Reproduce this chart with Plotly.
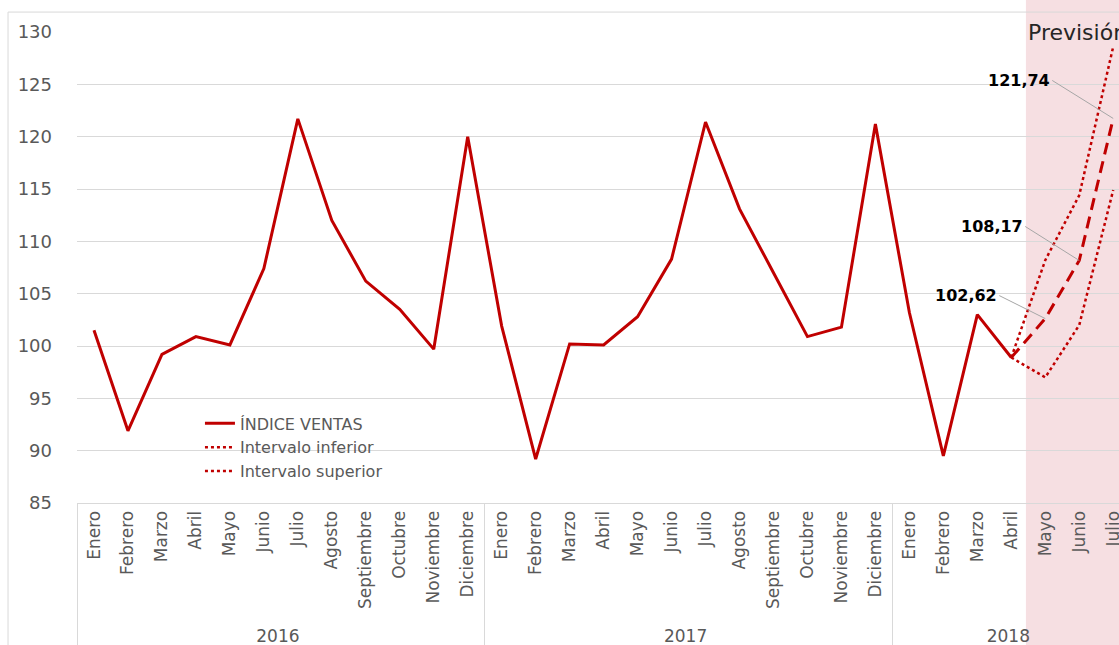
import plotly.graph_objects as go

# ---------------- data ----------------
month_names = ["Enero", "Febrero", "Marzo", "Abril", "Mayo", "Junio", "Julio",
               "Agosto", "Septiembre", "Octubre", "Noviembre", "Diciembre"]
years = ["2016"] * 12 + ["2017"] * 12 + ["2018"] * 7
months = month_names + month_names + month_names[:7]

ventas = [101.5, 91.9, 99.2, 100.9, 100.1, 107.4, 121.7, 112.0, 106.2, 103.5, 99.7, 120.0,
          101.9, 89.2, 100.2, 100.1, 102.8, 108.3, 121.4, 113.1, 107.0, 100.9, 101.8, 121.2,
          103.2, 89.5, 103.0, 98.9]
prevision = [98.9, 102.62, 108.17, 121.74]
inferior = [98.9, 97.0, 102.0, 114.9]
superior = [98.9, 108.2, 114.4, 128.6]

# ---------------- layout constants ----------------
RED = "#C00000"
GRID = "#D9D9D9"
TXT = "#595959"
X_RANGE = [-0.5, 30.17]
SHADE_START = 27.43  # category units

n_hist = len(ventas)
fc_start = n_hist - 1
x_hist = [years[:n_hist], months[:n_hist]]
x_fc = [years[fc_start:fc_start + len(prevision)], months[fc_start:fc_start + len(prevision)]]

fig = go.Figure()
fig.add_trace(go.Scatter(x=x_hist, y=ventas, mode="lines", name="ÍNDICE VENTAS",
                         line=dict(color=RED, width=3)))
fig.add_trace(go.Scatter(x=x_fc, y=inferior, mode="lines", name="Intervalo inferior",
                         line=dict(color=RED, width=2.5, dash="3px,3px")))
fig.add_trace(go.Scatter(x=x_fc, y=superior, mode="lines", name="Intervalo superior",
                         line=dict(color=RED, width=2.5, dash="3px,3px")))
fig.add_trace(go.Scatter(x=x_fc, y=prevision, mode="lines", name="Previsión",
                         showlegend=False, line=dict(color=RED, width=3, dash="12px,7px")))

# forecast shading (domain fraction computed from category position)
shade_x0 = (SHADE_START - X_RANGE[0]) / (X_RANGE[1] - X_RANGE[0])
fig.add_shape(type="rect", xref="x domain", yref="paper", x0=shade_x0, x1=1.2,
              y0=-0.4, y1=1.2, fillcolor="#F6DFE2", line=dict(width=0), layer="below")

# chart border
fig.add_shape(type="rect", xref="paper", yref="paper", x0=-0.0662, x1=1.2,
              y0=-0.5, y1=1.0423, line=dict(color=GRID, width=1), layer="below")

# value labels
offsets = {1: (-46, -23), 2: (-54, -34), 3: (-61, -38)}
for i, (ax_, ay_) in offsets.items():
    fig.add_annotation(x=fc_start + i, y=prevision[i], xref="x", yref="y",
                       text="<b>" + f"{prevision[i]:.2f}".replace(".", ",") + "</b>",
                       showarrow=True, arrowhead=0, arrowwidth=1, arrowcolor="#A6A6A6",
                       standoff=0, ax=ax_, ay=ay_, xanchor="right", yanchor="middle",
                       font=dict(family="DejaVu Sans", size=16, color="#000000"))

fig.add_annotation(x=shade_x0, y=1.0, xref="x domain", yref="paper", text="Previsión",
                   showarrow=False, xanchor="left", yanchor="middle", xshift=0,
                   font=dict(family="DejaVu Sans", size=22, color="#262626"))

fig.update_layout(
    width=1119, height=645,
    margin=dict(l=77, r=0, t=32, b=140),
    paper_bgcolor="white", plot_bgcolor="rgba(0,0,0,0)",
    showlegend=True,
    legend=dict(x=0.118, y=0.205, xanchor="left", yanchor="top",
                bgcolor="rgba(0,0,0,0)", font=dict(family="DejaVu Sans", size=16, color=TXT),
                tracegroupgap=0),
    xaxis=dict(type="multicategory", range=X_RANGE, tickangle=-90,
               tickfont=dict(family="DejaVu Sans", size=17, color=TXT),
               showgrid=False, showline=True, linecolor=GRID, linewidth=1,
               showdividers=True, dividercolor=GRID, dividerwidth=1, ticks=""),
    yaxis=dict(range=[85, 130], dtick=5, showgrid=True, gridcolor=GRID, gridwidth=1,
               zeroline=False, showline=False, ticks="", ticklabelstandoff=24,
               tickfont=dict(family="DejaVu Sans", size=18, color=TXT)),
)

# remove the default page margin so the figure fills the window exactly
fig.write_html("out.html", config={"displayModeBar": False},
               post_script="document.body.style.margin='0';document.body.style.overflow='hidden';")
